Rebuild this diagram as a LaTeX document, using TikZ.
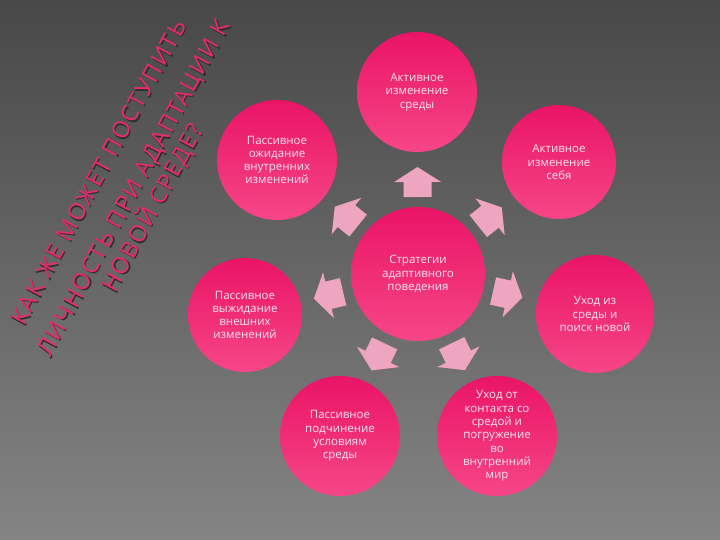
\documentclass[tikz,border=0pt]{standalone}
\usepackage{fontspec}
\setmainfont{Open Sans}
\newfontfamily\ttlfont{Open Sans}[LetterSpace=7]
\usetikzlibrary{calc}
\definecolor{bgtop}{RGB}{72,72,72}
\definecolor{bgbot}{RGB}{132,132,132}
\definecolor{ctop}{RGB}{234,20,102}
\definecolor{cbot}{RGB}{246,70,136}
\definecolor{ctext}{RGB}{252,228,238}
\definecolor{arrfill}{RGB}{238,165,192}
\definecolor{ttlpink}{RGB}{236,40,110}
\definecolor{ttlshadow}{RGB}{45,45,45}
\tikzset{
  bubble/.style={circle, minimum size=#1, inner sep=0pt, top color=ctop, bottom color=cbot,
    text=ctext, align=center, font=\fontsize{11.5}{13.3}\selectfont},
  blockarrow/.pic={\fill[arrfill] (-15pt,-14pt) -- (0pt,-14pt) -- (0pt,-23.5pt) -- (15pt,0pt)
    -- (0pt,23.5pt) -- (0pt,14pt) -- (-15pt,14pt) -- cycle;},
  ttl/.style={anchor=base west, rotate=61.5, inner sep=0pt, font=\ttlfont\fontsize{23}{28}\selectfont},
}
\newcommand{\linkarrow}[2]{%
  \path let \p1=($(#2)-(#1)$), \n1={atan2(\y1,\x1)} in
    ($(#1)!92pt!(#2)$) pic[rotate=\n1]{blockarrow};}
\begin{document}
\begin{tikzpicture}[x=1pt,y=-1pt]
\useasboundingbox (0,0) rectangle (720,540);
\shade[top color=bgtop, bottom color=bgbot] (0,0) rectangle (720,540);

% title
\foreach \nm/\px/\py/\txt in {t1/24/327/{КАК ЖЕ МОЖЕТ ПОСТУПИТЬ}, t2/50/358/{ЛИЧНОСТЬ ПРИ АДАПТАЦИИ К}, t3/115/294/{НОВОЙ СРЕДЕ?}}{
  \node[ttl, text=ttlshadow] (\nm s) at (\px+1.3,\py+1.3) {\txt};
  \node[ttl, text=ttlpink] (\nm) at (\px,\py) {\txt};
}

% circles
\node[bubble=134pt] (c) at (418,274) {Стратегии\\адаптивного\\поведения};
\node[bubble=120pt] (top) at (417,92) {Активное\\изменение\\среды};
\node[bubble=120pt] (ul) at (277,160) {Пассивное\\ожидание\\внутренних\\изменений};
\node[bubble=114pt] (ur) at (559,162) {Активное\\изменение\\себя};
\node[bubble=114pt] (l) at (245,315) {Пассивное\\выжидание\\внешних\\изменений};
\node[bubble=118pt] (r) at (595,314) {Уход из\\среды и\\поиск новой};
\node[bubble=120pt] (bl) at (340,436) {Пассивное\\подчинение\\условиям\\среды};
\node[bubble=120pt] (br) at (497,436) {Уход от\\контакта со\\средой и\\погружение\\во\\внутренний\\мир};

% arrows
\linkarrow{c}{top}
\linkarrow{c}{ul}
\linkarrow{c}{ur}
\linkarrow{c}{l}
\linkarrow{c}{r}
\linkarrow{c}{bl}
\linkarrow{c}{br}
\end{tikzpicture}
\end{document}
